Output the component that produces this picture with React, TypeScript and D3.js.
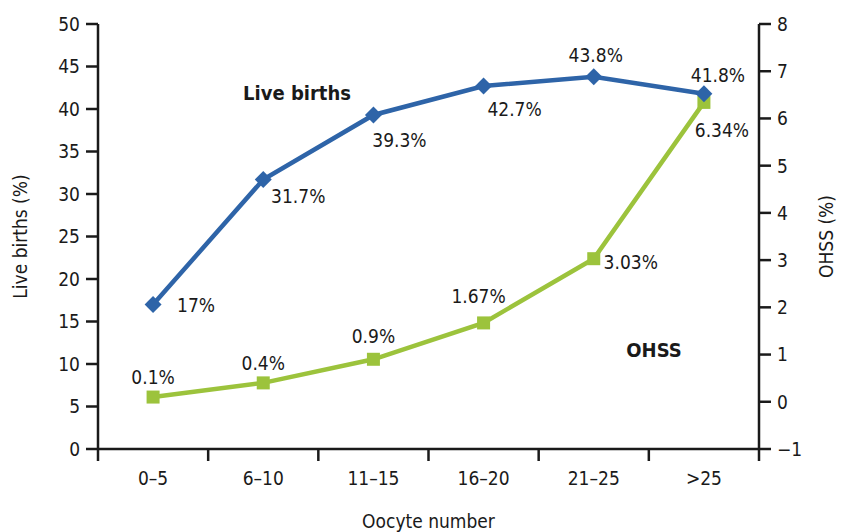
import React from 'react';
import * as d3 from 'd3';

const width = 842;
const height = 532;
const margin = { top: 24, right: 83, bottom: 83, left: 98 };
const blue = '#2e64a8';
const green = '#9cc33c';
const ink = '#1a1a1a';
const font = '"Liberation Sans Narrow", "DejaVu Sans Condensed", Arial, sans-serif';

const categories = ['0\u20135', '6\u201310', '11\u201315', '16\u201320', '21\u201325', '>25'];
const liveBirths = [17, 31.7, 39.3, 42.7, 43.8, 41.8];
const ohss = [0.1, 0.4, 0.9, 1.67, 3.03, 6.34];
const liveLabels = ['17%', '31.7%', '39.3%', '42.7%', '43.8%', '41.8%'];
const ohssLabels = ['0.1%', '0.4%', '0.9%', '1.67%', '3.03%', '6.34%'];
const leftTicks = [0, 5, 10, 15, 20, 25, 30, 35, 40, 45, 50];
const rightTicks = [-1, 0, 1, 2, 3, 4, 5, 6, 7, 8];

// label offsets from the point (dx, dy), text anchored at middle
const liveOffsets = [[43, 1], [35, 17], [26, 25], [31, 23], [2, -22], [14, -19]];
const ohssOffsets = [[0, -20], [0, -20], [0, -23], [-5, -27], [37, 3], [18, 28]];

export default function App() {
  const x0 = margin.left;
  const x1 = width - margin.right;
  const y0 = height - margin.bottom;
  const y1 = margin.top;

  const x = d3.scaleBand().domain(categories).range([x0, x1]);
  const yL = d3.scaleLinear().domain([0, 50]).range([y0, y1]);
  const yR = d3.scaleLinear().domain([-1, 8]).range([y0, y1]);
  const cx = (c: string) => (x(c) as number) + x.bandwidth() / 2;

  const lineL = d3.line<number>().x((_, i) => cx(categories[i])).y(d => yL(d));
  const lineR = d3.line<number>().x((_, i) => cx(categories[i])).y(d => yR(d));

  const boundaries = categories.map(c => x(c) as number).concat([x1]);

  return (
    <svg width={width} height={height} style={{ position: 'absolute', left: 0, top: 0 }} fontFamily={font}>
      <rect width={width} height={height} fill="#fff" />
      {/* axes */}
      <g stroke={ink} strokeWidth={2.5} fill="none">
        <line x1={x0} x2={x0} y1={y1} y2={y0} />
        <line x1={x1} x2={x1} y1={y1} y2={y0} />
        <line x1={x0} x2={x1} y1={y0} y2={y0} />
        {leftTicks.map(t => <line key={'l' + t} x1={x0 - 12} x2={x0} y1={yL(t)} y2={yL(t)} />)}
        {rightTicks.map(t => <line key={'r' + t} x1={x1} x2={x1 + 12} y1={yR(t)} y2={yR(t)} />)}
        {boundaries.map((b, i) => <line key={'b' + i} x1={b} x2={b} y1={y0} y2={y0 + 12} />)}
      </g>
      <g fontSize={19} fill={ink}>
        {leftTicks.map(t => (
          <text key={'lt' + t} x={x0 - 18} y={yL(t)} dy="0.36em" textAnchor="end">{t}</text>
        ))}
        {rightTicks.map(t => (
          <text key={'rt' + t} x={x1 + 18} y={yR(t)} dy="0.36em" textAnchor="start">{t < 0 ? '\u2212' + -t : t}</text>
        ))}
        {categories.map(c => (
          <text key={'c' + c} x={cx(c)} y={y0 + 29} dy="0.36em" textAnchor="middle">{c}</text>
        ))}
        <text transform={`translate(20,${(y0 + y1) / 2}) rotate(-90)`} textAnchor="middle" dy="0.36em">Live births (%)</text>
        <text transform={`translate(826,${(y0 + y1) / 2}) rotate(-90)`} textAnchor="middle" dy="0.36em">OHSS (%)</text>
        <text x={(x0 + x1) / 2} y={521} textAnchor="middle" dy="0.36em">Oocyte number</text>
      </g>
      {/* series */}
      <path d={lineR(ohss) as string} stroke={green} strokeWidth={4.5} fill="none" />
      <path d={lineL(liveBirths) as string} stroke={blue} strokeWidth={4.5} fill="none" />
      {ohss.map((v, i) => (
        <rect key={'s' + i} x={cx(categories[i]) - 6.5} y={yR(v) - 6.5} width={13} height={13} fill={green} />
      ))}
      {liveBirths.map((v, i) => (
        <rect key={'d' + i} x={-6} y={-6} width={12} height={12} fill={blue}
          transform={`translate(${cx(categories[i])},${yL(v)}) rotate(45)`} />
      ))}
      <g fontSize={19} fill={ink} textAnchor="middle">
        {liveBirths.map((v, i) => (
          <text key={'ll' + i} x={cx(categories[i]) + liveOffsets[i][0]} y={yL(v) + liveOffsets[i][1]} dy="0.36em">{liveLabels[i]}</text>
        ))}
        {ohss.map((v, i) => (
          <text key={'ol' + i} x={cx(categories[i]) + ohssOffsets[i][0]} y={yR(v) + ohssOffsets[i][1]} dy="0.36em">{ohssLabels[i]}</text>
        ))}
      </g>
      <g fontSize={20} fontWeight="bold" fill={ink} textAnchor="middle">
        <text x={297} y={93} dy="0.36em">Live births</text>
        <text x={654} y={350} dy="0.36em">OHSS</text>
      </g>
    </svg>
  );
}
